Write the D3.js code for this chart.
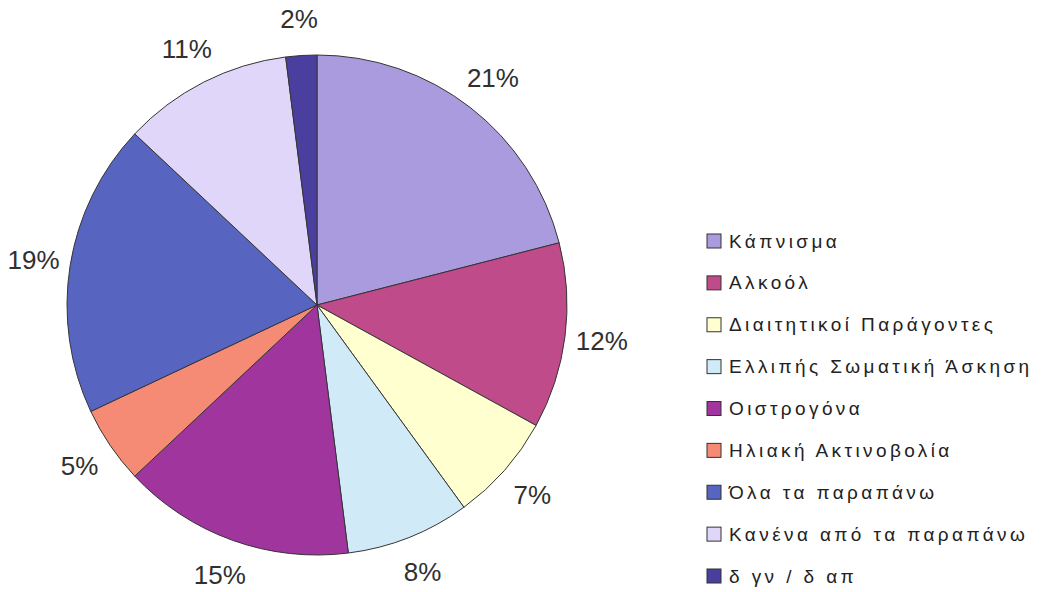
<!DOCTYPE html>
<html>
<head>
<meta charset="utf-8">
<script src="https://cdn.jsdelivr.net/npm/d3@7"></script>
<style>
  html, body { margin: 0; padding: 0; background: #ffffff; }
  svg { display: block; }
  text { font-family: "Liberation Sans", Arial, sans-serif; }
</style>
</head>
<body>
<svg id="chart" width="1049" height="592"></svg>
<script>
// Risk factors and their share of responses (%)
const categories = [
  "Κάπνισμα",
  "Αλκοόλ",
  "Διαιτητικοί Παράγοντες",
  "Ελλιπής Σωματική Άσκηση",
  "Οιστρογόνα",
  "Ηλιακή Ακτινοβολία",
  "Όλα τα παραπάνω",
  "Κανένα από τα παραπάνω",
  "δ γν / δ απ"
];
const values = [21, 12, 7, 8, 15, 5, 19, 11, 2];
const valueLabels = ["21%", "12%", "7%", "8%", "15%", "5%", "19%", "11%", "2%"];
const colors = [
  "#aa9bde", "#bf4b8a", "#ffffd0", "#d0eaf8", "#a0359e",
  "#f58b75", "#5765c0", "#e0d6fa", "#4a3f9e"
];

const svg = d3.select("#chart");
const cx = 317, cy = 305, radius = 250, labelRadius = 287;

const pie = d3.pie().sort(null).value(d => d)(values);
const arc = d3.arc().innerRadius(0).outerRadius(radius);
const labelArc = d3.arc().innerRadius(labelRadius).outerRadius(labelRadius);

const g = svg.append("g").attr("transform", `translate(${cx},${cy})`);

g.selectAll("path.slice")
  .data(pie)
  .join("path")
  .attr("class", "slice")
  .attr("d", arc)
  .attr("fill", (d, i) => colors[i])
  .attr("stroke", "#353535")
  .attr("stroke-width", 1)
  .attr("stroke-linejoin", "round");

g.selectAll("text.pct")
  .data(pie)
  .join("text")
  .attr("class", "pct")
  .attr("transform", d => `translate(${labelArc.centroid(d)})`)
  .attr("text-anchor", "middle")
  .attr("dominant-baseline", "central")
  .attr("font-size", 26)
  .attr("fill", "#303030")
  .text((d, i) => valueLabels[i]);

// Legend
const legendScale = d3.scalePoint()
  .domain(categories)
  .range([241, 576]);

const legend = svg.append("g").attr("class", "legend");
const item = legend.selectAll("g")
  .data(categories)
  .join("g")
  .attr("transform", d => `translate(707,${legendScale(d)})`);

item.append("rect")
  .attr("x", 0)
  .attr("y", -7)
  .attr("width", 14)
  .attr("height", 14)
  .attr("fill", (d, i) => colors[i])
  .attr("stroke", "#333")
  .attr("stroke-width", 1);

item.append("text")
  .attr("x", 22)
  .attr("y", 0)
  .attr("dominant-baseline", "central")
  .attr("font-size", 19)
  .attr("letter-spacing", 3.4)
  .attr("fill", "#222")
  .text(d => d);
</script>
</body>
</html>
